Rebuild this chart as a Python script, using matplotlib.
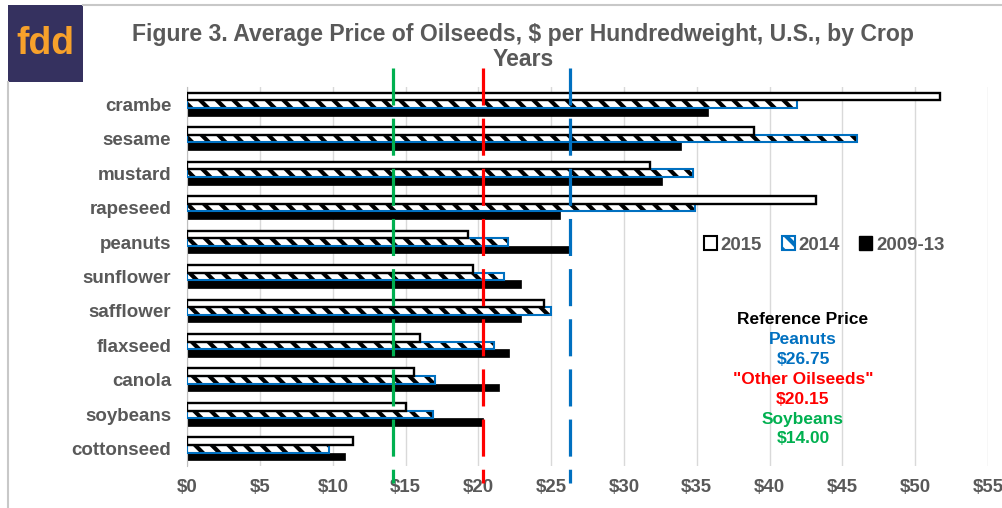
import matplotlib
matplotlib.use('Agg')
import matplotlib.pyplot as plt
from matplotlib.patches import Patch, Rectangle
from matplotlib.lines import Line2D
import matplotlib.transforms as mtransforms
import numpy as np

# ---------------- data ----------------
categories = ['crambe', 'sesame', 'mustard', 'rapeseed', 'peanuts', 'sunflower',
              'safflower', 'flaxseed', 'canola', 'soybeans', 'cottonseed']
price_2015 = [51.7, 38.9, 31.8, 43.2, 19.3, 19.6, 24.5, 16.0, 15.6, 15.0, 11.4]
price_2014 = [41.85, 46.0, 34.75, 34.9, 22.0, 21.75, 25.0, 21.1, 17.0, 16.9, 9.7]
price_0913 = [35.8, 33.9, 32.6, 25.6, 26.2, 22.9, 22.9, 22.1, 21.4, 20.3, 10.8]
series_labels = ['2015', '2014', '2009-13']

ref_names = ['Peanuts', '"Other Oilseeds"', 'Soybeans']
ref_prices = [26.75, 20.15, 14.00]
ref_line_x = [26.3, 20.3, 14.15]   # where the dashed lines are drawn in the picture
ref_colors = ['#0070C0', '#FF0000', '#00B050']

x_ticks = list(range(0, 56, 5))
x_labels = [f'${v}' for v in x_ticks]

title = 'Figure 3. Average Price of Oilseeds, $ per Hundredweight, U.S., by Crop'
title2 = 'Years'

# ---------------- style ----------------
plt.rcParams['font.family'] = ['Liberation Sans', 'DejaVu Sans']
plt.rcParams['font.weight'] = 'bold'
plt.rcParams['hatch.linewidth'] = 3.0
GRAY = '#595959'
W, H = 1003, 508

fig = plt.figure(figsize=(W / 100, H / 100), dpi=100)
fig.patch.set_facecolor('white')

left_px, right_px, top_px, bot_px = 187.3, 988, 87, 466
ax = fig.add_axes([left_px / W, 1 - bot_px / H, (right_px - left_px) / W, (bot_px - top_px) / H])

y = np.arange(len(categories))
h = 0.22
ax.barh(y - h, price_2015, height=h, color='white', edgecolor='black', linewidth=1.7, zorder=4)
ax.barh(y, price_2014, height=h, color='white', edgecolor='black', hatch='\\\\', linewidth=0, zorder=2)
ax.barh(y, price_2014, height=h, fill=False, edgecolor='#0070C0', linewidth=1.5, zorder=3)
ax.barh(y + h, price_0913, height=h, color='black', edgecolor='black', linewidth=0.5, zorder=2)

ax.set_xlim(0, 55)
ax.set_ylim(len(categories) - 0.5, -0.5)
ax.set_xticks(x_ticks)
ax.set_xticklabels(x_labels)
ax.set_yticks(y)
ax.set_yticklabels(categories)
ax.tick_params(axis='both', length=0, colors=GRAY)
ax.tick_params(axis='y', pad=11.5, labelsize=13.5)
ax.tick_params(axis='x', pad=9, labelsize=13.4)
for lab in ax.get_xticklabels() + ax.get_yticklabels():
    lab.set_fontweight('bold')
ax.xaxis.grid(True, color='#d9d9d9', linewidth=1)
ax.set_axisbelow(True)
for s in ['top', 'right', 'bottom']:
    ax.spines[s].set_visible(False)
ax.spines['left'].set_color('#bfbfbf')

# reference price dashed lines
trans = mtransforms.blended_transform_factory(ax.transData, ax.transAxes)
for xv, c in zip(ref_line_x, ref_colors):
    ax.plot([xv, xv], [1.05, -0.045], transform=trans, color=c, lw=2.3,
            dashes=(11.6, 4.1), clip_on=False, zorder=5, solid_capstyle='butt')

# legend
handles = [Patch(facecolor='white', edgecolor='black', linewidth=1.5),
           Patch(facecolor='white', edgecolor='#0070C0', hatch='\\\\', linewidth=1.5),
           Patch(facecolor='black', edgecolor='black')]
fig.legend(handles, series_labels, loc='center left', bbox_to_anchor=(704 / W, 1 - 245 / H),
           ncol=3, frameon=False, prop={'size': 13.4, 'weight': 'bold'}, labelcolor=GRAY,
           handlelength=0.7, handleheight=0.7, handletextpad=0.2, columnspacing=1.05,
           borderpad=0, borderaxespad=0)

# reference price text block
lines = [('Reference Price', 'black')]
for n, p, c in zip(ref_names, ref_prices, ref_colors):
    lines.append((n, c))
    lines.append((f'${p:.2f}', c))
ys = [320, 339.5, 359.5, 379.3, 399.3, 419.3, 438.5]
for (t, c), yp in zip(lines, ys):
    fig.text(803 / W, 1 - yp / H, t, color=c, ha='center', va='center', fontsize=12.5, fontweight='bold')

# title
fig.text(523 / W, 1 - 35 / H, title, ha='center', va='center', fontsize=16.6, fontweight='bold', color=GRAY)
fig.text(523 / W, 1 - 60 / H, title2, ha='center', va='center', fontsize=16.6, fontweight='bold', color=GRAY)

# logo and frame
fig.add_artist(Rectangle((8 / W, 1 - 82 / H), 75 / W, 77 / H, transform=fig.transFigure,
                         facecolor='#35315F', edgecolor='none'))
fig.text(45.5 / W, 1 - 44 / H, 'fdd', ha='center', va='center', fontsize=27, fontweight='bold', color='#F7A12B')
fig.add_artist(Line2D([83 / W, 1], [1 - 5 / H, 1 - 5 / H], color='#c8c8c8', lw=1.5, transform=fig.transFigure))
fig.add_artist(Line2D([8 / W, 8 / W], [1 - 82 / H, 0], color='#c8c8c8', lw=1.5, transform=fig.transFigure))

fig.savefig('out.png', dpi=100)
